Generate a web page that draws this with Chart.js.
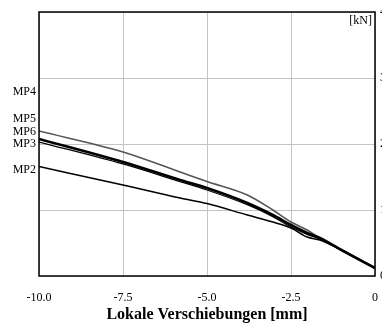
<!DOCTYPE html>
<html>
<head>
<meta charset="utf-8">
<script src="https://cdn.jsdelivr.net/npm/chart.js@4"></script>
<style>
    html, body { margin: 0; padding: 0; background: #fff; }
    #wrap { width: 382px; height: 324px; position: relative; }
</style>
</head>
<body>
<div id="wrap"><canvas id="forceChart"></canvas></div>
<script>
// displacement [mm] where each curve was read
const displacements = [-10, -7.5, -5.8, -5, -3.8, -3.04, -2.5, -2.02, -1.64, -1, 0];

// force [kN] per measuring point
const mp5 = [2.197, 1.879, 1.576, 1.432, 1.227, 1.0, 0.818, 0.697, 0.576, 0.397, 0.125];
const mp6 = [2.076, 1.727, 1.455, 1.333, 1.106, 0.924, 0.773, 0.652, 0.576, 0.394, 0.12];
const mp3 = [2.03, 1.697, 1.43, 1.303, 1.08, 0.9, 0.742, 0.63, 0.56, 0.39, 0.12];
const mp2 = [1.659, 1.379, 1.182, 1.098, 0.924, 0.818, 0.727, 0.591, 0.545, 0.394, 0.12];

// curve names on the left and the level they are written at
const curveNames = ['MP4', 'MP5', 'MP6', 'MP3', 'MP2'];
const nameLevels = [2.788, 2.379, 2.182, 2.0, 1.606];

const xTicks = [-10, -7.5, -5, -2.5, 0];
const yTicks = [0, 1, 2, 3, 4];

const serif = '"Liberation Serif", "DejaVu Serif", serif';

function toPoints(values) {
    return values.map((v, i) => ({ x: displacements[i], y: v }));
}

const sideLabels = {
    id: 'sideLabels',
    afterDraw(chart) {
        const ctx = chart.ctx;
        const area = chart.chartArea;
        const y = chart.scales.y;
        ctx.save();
        ctx.font = '12px ' + serif;
        ctx.fillStyle = '#000';
        ctx.textAlign = 'right';
        ctx.textBaseline = 'middle';
        curveNames.forEach((name, i) => {
            ctx.fillText(name, area.left - 3, y.getPixelForValue(nameLevels[i]));
        });
        ctx.textBaseline = 'top';
        ctx.fillText('[kN]', area.right - 3, area.top + 3);
        // right hand scale, mostly cut off by the window edge
        ctx.textAlign = 'left';
        ctx.textBaseline = 'middle';
        yTicks.forEach(v => {
            ctx.fillText(String(v), area.right + 5, y.getPixelForValue(v));
        });
        // frame
        ctx.strokeStyle = '#000';
        ctx.lineWidth = 1.5;
        ctx.strokeRect(area.left, area.top, area.right - area.left, area.bottom - area.top);
        ctx.restore();
    }
};

function makeSet(label, values, color, width) {
    return {
        label: label,
        data: toPoints(values),
        borderColor: color,
        borderWidth: width,
        pointRadius: 0,
        fill: false,
        cubicInterpolationMode: 'monotone'
    };
}

new Chart(document.getElementById('forceChart').getContext('2d'), {
    type: 'line',
    data: {
        datasets: [
            makeSet('MP2', mp2, '#000', 1.5),
            makeSet('MP3', mp3, '#000', 1.3),
            makeSet('MP6', mp6, '#000', 2.6),
            makeSet('MP5', mp5, '#555', 1.6)
        ]
    },
    options: {
        responsive: true,
        maintainAspectRatio: false,
        animation: false,
        layout: { padding: { left: 0, top: 12, right: 7, bottom: 0 } },
        plugins: {
            legend: { display: false },
            tooltip: { enabled: false }
        },
        scales: {
            x: {
                type: 'linear',
                min: -10,
                max: 0,
                afterBuildTicks: axis => { axis.ticks = xTicks.map(v => ({ value: v })); },
                afterFit: axis => {
                    axis.height = 48;
                    axis.paddingLeft = 0;
                    axis.paddingRight = 0;
                },
                grid: { color: '#c4c4c4', lineWidth: 1, drawTicks: false },
                border: { display: false },
                ticks: {
                    padding: 15,
                    color: '#000',
                    font: { family: serif, size: 12 },
                    callback: v => v === 0 ? '0' : v.toFixed(1)
                },
                title: {
                    display: true,
                    text: 'Lokale Verschiebungen [mm]',
                    color: '#000',
                    font: { family: serif, size: 16, weight: 'bold' },
                    padding: { top: 0, bottom: 0 }
                }
            },
            y: {
                type: 'linear',
                position: 'left',
                min: 0,
                max: 4,
                afterBuildTicks: axis => { axis.ticks = yTicks.map(v => ({ value: v })); },
                afterFit: axis => { axis.width = 39; },
                grid: { color: '#c4c4c4', lineWidth: 1, drawTicks: false },
                border: { display: false },
                ticks: { display: false }
            }
        }
    },
    plugins: [sideLabels]
});
</script>
</body>
</html>
